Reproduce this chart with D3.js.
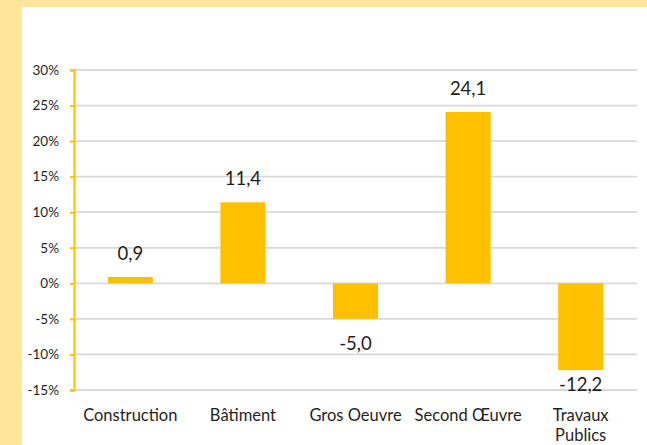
<!DOCTYPE html>
<html>
<head>
<meta charset="utf-8">
<script src="https://cdn.jsdelivr.net/npm/d3@7"></script>
<style>
  body { margin: 0; background: #FFE699; }
  svg { display: block; }
  text { font-family: Lato, "Open Sans", sans-serif; fill: #1f1f1f; }
</style>
</head>
<body>
<script>
const categories = ["Construction", "Bâtiment", "Gros Oeuvre", "Second Œuvre", "Travaux Publics"];
const values = [0.9, 11.4, -5.0, 24.1, -12.2];
const yTicks = [-15, -10, -5, 0, 5, 10, 15, 20, 25, 30];

const w = 647, h = 445;
const plotL = 74, plotR = 637, plotT = 70, plotB = 390;

const svg = d3.select("body").append("svg")
  .attr("width", w)
  .attr("height", h);

// white panel on the yellow background
svg.append("rect")
  .attr("x", 22).attr("y", 7)
  .attr("width", w - 22).attr("height", h - 7)
  .attr("fill", "#fff");

const x = d3.scaleBand()
  .domain(categories)
  .range([plotL, plotR])
  .paddingInner(0.6)
  .paddingOuter(0.3);

const y = d3.scaleLinear()
  .domain([-15, 30])
  .range([plotB, plotT]);

// gridlines
svg.append("g")
  .selectAll("line")
  .data(yTicks)
  .enter()
  .append("line")
  .attr("x1", plotL).attr("x2", plotR)
  .attr("y1", d => y(d)).attr("y2", d => y(d))
  .attr("stroke", "#D9D9D9")
  .attr("stroke-width", 1.8);

// y axis
const yAxis = svg.append("g")
  .attr("transform", `translate(${plotL},0)`)
  .call(d3.axisLeft(y).tickValues(yTicks).tickSize(4).tickFormat(d => d + "%"));
yAxis.select(".domain").attr("stroke", "#FFC000").attr("stroke-width", 2);
yAxis.selectAll(".tick line").attr("stroke", "#FFC000").attr("stroke-width", 2);
yAxis.selectAll(".tick text")
  .attr("x", -15)
  .style("font-size", "13.5px")
  .attr("fill", "#1f1f1f");

// bars
svg.append("g")
  .selectAll("rect")
  .data(values)
  .enter()
  .append("rect")
  .attr("x", (d, i) => x(categories[i]))
  .attr("width", x.bandwidth())
  .attr("y", d => y(Math.max(0, d)))
  .attr("height", d => Math.abs(y(d) - y(0)))
  .attr("fill", "#FFC000");

// value labels (kept inside the plot area, like Excel does)
svg.append("g")
  .selectAll("text")
  .data(values)
  .enter()
  .append("text")
  .attr("x", (d, i) => x(categories[i]) + x.bandwidth() / 2)
  .attr("y", d => d >= 0 ? y(d) - 17 : Math.min(y(d) + 31, plotB + 1))
  .attr("text-anchor", "middle")
  .style("font-size", "18.5px")
  .text(d => d.toFixed(1).replace(".", ","));

// category labels
const cat = svg.append("g")
  .selectAll("text")
  .data(categories)
  .enter()
  .append("text")
  .attr("x", d => x(d) + x.bandwidth() / 2)
  .attr("y", 421)
  .attr("text-anchor", "middle")
  .style("font-size", "16.5px");

cat.each(function (d) {
  const t = d3.select(this);
  const parts = d === "Travaux Publics" ? ["Travaux", "Publics"] : [d];
  parts.forEach((p, k) => {
    t.append("tspan")
      .attr("x", t.attr("x"))
      .attr("dy", k === 0 ? 0 : 20)
      .text(p);
  });
});
</script>
</body>
</html>
